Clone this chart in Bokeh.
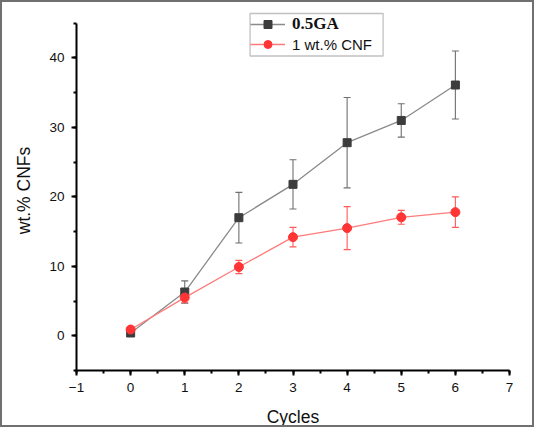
from bokeh.plotting import figure
from bokeh.models import (ColumnDataSource, Whisker, TeeHead, Legend, LegendItem,
                          SingleIntervalTicker, BoxAnnotation, Range1d)
from bokeh.embed import file_html
from bokeh.resources import INLINE

# ---- data ----
cycles = [0, 1, 2, 3, 4, 5, 6]
ga_vals = [0.4, 6.3, 17.0, 21.8, 27.8, 31.0, 36.1]
ga_err = [0.2, 1.6, 3.65, 3.55, 6.5, 2.4, 4.9]
cnf_vals = [0.9, 5.5, 9.9, 14.2, 15.5, 17.05, 17.8]
cnf_err = [0.2, 0.75, 0.95, 1.4, 3.1, 1.0, 2.2]
series_names = ["0.5GA", "1 wt.% CNF"]
x_label = "Cycles"
y_label = "wt.% CNFs"

BLACK_M = "#3c3c3c"
BLACK_L = "#8a8a8a"
BLACK_E = "#6f6f6f"
RED_M = "#ff3535"
RED_L = "#ff7a7a"
RED_E = "#ff5a5a"
TXT = "#111111"

p = figure(width=534, height=427, output_backend="svg", toolbar_location=None,
           x_range=Range1d(-1, 7), y_range=Range1d(-5, 46.83),
           min_border_left=74, min_border_right=27, min_border_top=8, min_border_bottom=57)
p.outline_line_color = None
p.xgrid.visible = False
p.ygrid.visible = False
p.styles = {"border": "2px solid #707070"}

src_ga = ColumnDataSource(dict(x=cycles, y=ga_vals,
                               up=[v + e for v, e in zip(ga_vals, ga_err)],
                               lo=[v - e for v, e in zip(ga_vals, ga_err)]))
src_cnf = ColumnDataSource(dict(x=cycles, y=cnf_vals,
                                up=[v + e for v, e in zip(cnf_vals, cnf_err)],
                                lo=[v - e for v, e in zip(cnf_vals, cnf_err)]))

w1 = Whisker(base="x", upper="up", lower="lo", source=src_ga, line_color=BLACK_E, line_width=1.1,
             upper_head=TeeHead(size=7, line_color=BLACK_E, line_width=1.1),
             lower_head=TeeHead(size=7, line_color=BLACK_E, line_width=1.1), level="underlay")
w2 = Whisker(base="x", upper="up", lower="lo", source=src_cnf, line_color=RED_E, line_width=1.1,
             upper_head=TeeHead(size=7, line_color=RED_E, line_width=1.1),
             lower_head=TeeHead(size=7, line_color=RED_E, line_width=1.1), level="underlay")
p.add_layout(w1)
p.add_layout(w2)

l1 = p.line("x", "y", source=src_ga, line_color=BLACK_L, line_width=1.3)
m1 = p.scatter("x", "y", source=src_ga, marker="square", size=8, fill_color=BLACK_M, line_color=BLACK_M)
l2 = p.line("x", "y", source=src_cnf, line_color=RED_L, line_width=1.3)
m2 = p.scatter("x", "y", source=src_cnf, marker="circle", size=9, fill_color=RED_M, line_color=RED_M)

# axes
p.xaxis.ticker = SingleIntervalTicker(interval=1, num_minor_ticks=2)
p.yaxis.ticker = SingleIntervalTicker(interval=10, num_minor_ticks=2)
p.yaxis.bounds = (-5, 45)
for ax in (p.xaxis, p.yaxis):
    ax.axis_line_color = "black"
    ax.axis_line_width = 2
    ax.major_tick_line_color = "black"
    ax.major_tick_line_width = 2
    ax.minor_tick_line_color = "black"
    ax.minor_tick_line_width = 2
    ax.major_tick_out = 5
    ax.major_tick_in = 0
    ax.minor_tick_out = 3
    ax.minor_tick_in = 0
    ax.major_label_text_font = "Liberation Sans"
    ax.major_label_text_font_size = "13.5px"
    ax.major_label_text_color = TXT
    ax.axis_label_text_font = "Liberation Sans"
    ax.axis_label_text_font_size = "17.5px"
    ax.axis_label_text_font_style = "normal"
    ax.axis_label_text_color = TXT
p.xaxis.axis_label = x_label
p.yaxis.axis_label = y_label
p.xaxis.major_label_standoff = 7
p.yaxis.major_label_standoff = 7
p.xaxis.axis_label_standoff = 12
p.yaxis.axis_label_standoff = 12

# legend box
box = BoxAnnotation(left=2.207, right=4.665, bottom=40.28, top=46.40,
                    fill_alpha=0, line_color="#333333", line_width=1.3, level="overlay")
p.add_layout(box)

common = dict(border_line_color=None, background_fill_alpha=0, padding=2, margin=0,
              glyph_width=35, glyph_height=20, label_height=20, label_standoff=7, spacing=0)
legA = Legend(items=[LegendItem(label=series_names[0], renderers=[l1, m1])],
              location=(174, 336), label_text_font="Liberation Serif",
              label_text_font_style="bold", label_text_font_size="17px",
              label_text_color=TXT, **common)
legB = Legend(items=[LegendItem(label=series_names[1], renderers=[l2, m2])],
              location=(174, 316), label_text_font="Liberation Sans",
              label_text_font_size="15px", label_text_color=TXT, **common)
p.add_layout(legA)
p.add_layout(legB)

open("out.html", "w").write(file_html(p, INLINE))
